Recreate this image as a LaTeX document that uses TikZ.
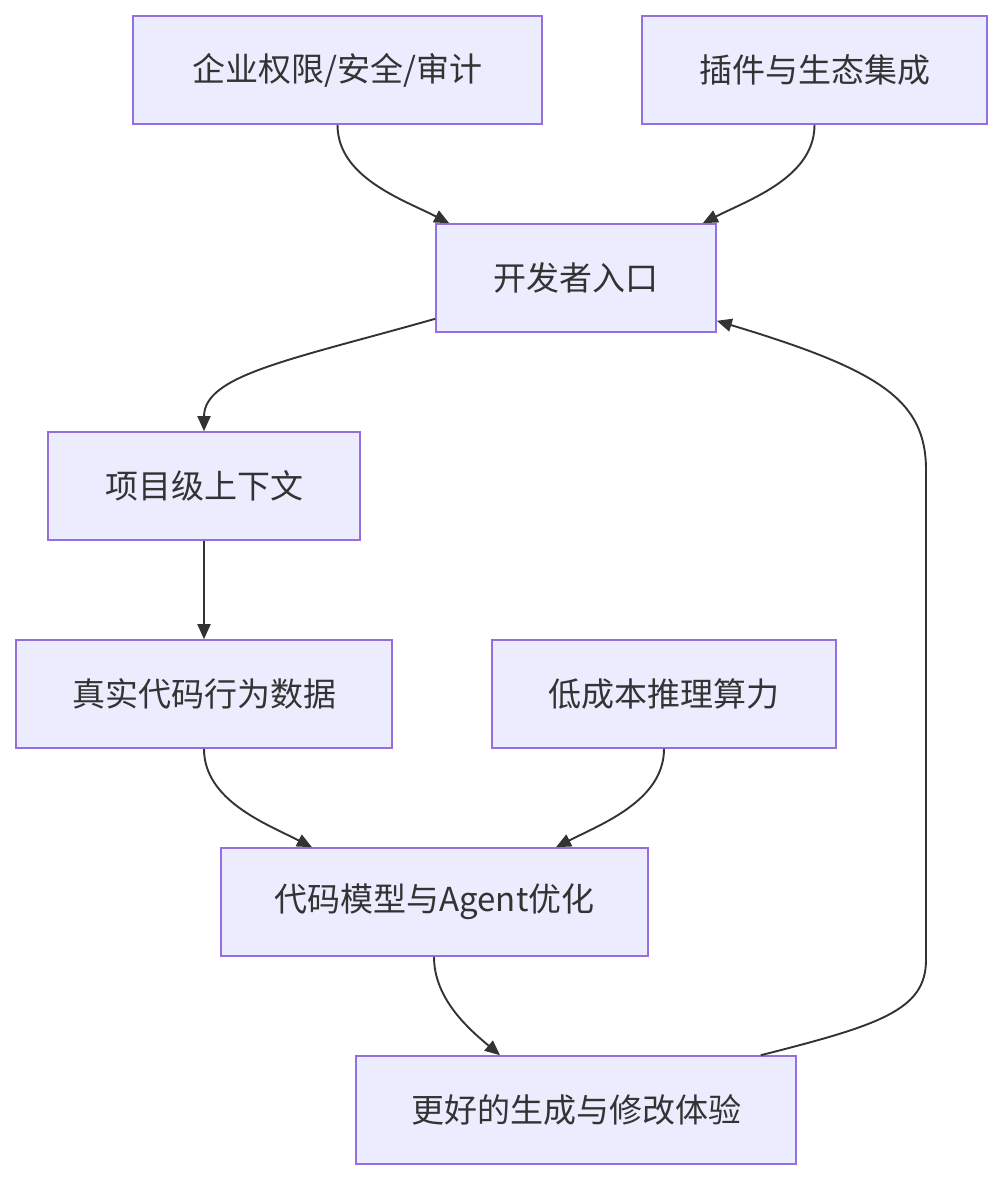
\documentclass[tikz,border=0pt]{standalone}
\usepackage{fontspec}
\setmainfont{Noto Sans CJK SC}
\usetikzlibrary{arrows.meta}
\definecolor{boxfill}{HTML}{ECECFF}
\definecolor{boxline}{HTML}{9370DB}
\definecolor{edgecol}{HTML}{333333}
\begin{document}
\begin{tikzpicture}[x=1pt,y=-1pt,
  box/.style={draw=boxline,fill=boxfill,line width=1.6pt,inner sep=0pt,
    text=edgecol,font=\fontsize{33}{38}\selectfont},
  edge/.style={draw=edgecol,line width=1.9pt,-{Triangle[length=15pt,width=13pt]}}]
\useasboundingbox (0,0) rectangle (1002,1180);
\node[box,minimum width=409pt,minimum height=108pt] (A) at (337.5,70) {企业权限/安全/审计};
\node[box,minimum width=345pt,minimum height=108pt] (B) at (814.5,70) {插件与生态集成};
\node[box,minimum width=280pt,minimum height=108pt] (C) at (576,278) {开发者入口};
\node[box,minimum width=312pt,minimum height=108pt] (D) at (204,486) {项目级上下文};
\node[box,minimum width=376pt,minimum height=108pt] (E) at (204,694) {真实代码行为数据};
\node[box,minimum width=344pt,minimum height=108pt] (F) at (664,694) {低成本推理算力};
\node[box,minimum width=427pt,minimum height=108pt] (G) at (434.5,902) {代码模型与Agent优化};
\node[box,minimum width=440pt,minimum height=108pt] (H) at (576,1110) {更好的生成与修改体验};

\draw[edge] (A.south) to[out=-90,in=153,looseness=0.9] ([xshift=14pt]C.north west);
\draw[edge] (B.south) to[out=-90,in=27,looseness=0.9] ([xshift=-14pt]C.north east);
\draw[edge] ([yshift=14pt]C.south west) .. controls (290,360) and (204,375) .. (D.north);
\draw[edge] (D.south) -- (E.north);
\draw[edge] (E.south) to[out=-90,in=153,looseness=0.9] ([xshift=-122.5pt]G.north);
\draw[edge] (F.south) to[out=-90,in=27,looseness=0.9] ([xshift=121.5pt]G.north);
\draw[edge] ([xshift=-0.5pt]G.south) to[out=-90,in=140,looseness=0.9] ([xshift=-76pt]H.north);
\draw[edge] ([xshift=-36pt]H.north east) .. controls (880,1025) and (926,1010) .. (926,960)
  -- (926,470) .. controls (926,400) and (880,370) .. ([yshift=12pt]C.south east);
\end{tikzpicture}
\end{document}
